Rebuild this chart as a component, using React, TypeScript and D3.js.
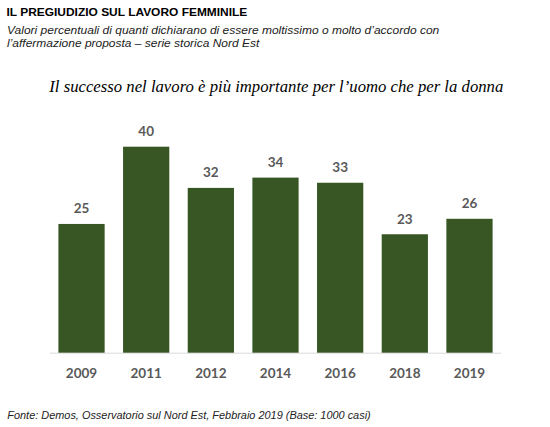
import React from "react";
import * as d3 from "d3";

const years = ["2009", "2011", "2012", "2014", "2016", "2018", "2019"];
const values = [25, 40, 32, 34, 33, 23, 26];

const header = "IL PREGIUDIZIO SUL LAVORO FEMMINILE";
const subtitle1 = "Valori percentuali di quanti dichiarano di essere moltissimo o molto d’accordo con";
const subtitle2 = "l’affermazione proposta – serie storica Nord Est";
const chartTitle = "Il successo nel lavoro è più importante per l’uomo che per la donna";
const source = "Fonte: Demos, Osservatorio sul Nord Est, Febbraio 2019 (Base: 1000 casi)";

const W = 550;
const H = 427;

export default function App() {
  const x = d3.scaleBand<string>().domain(years).range([50, 501]).paddingInner(0.285).paddingOuter(0.13);
  const y = d3.scaleLinear().domain([0, 40]).range([352.7, 146.7]);
  const arial = "Arial, 'Liberation Sans', sans-serif";
  const calibri = "Lato, 'Open Sans', sans-serif";
  return (
    <div style={{ position: "absolute", left: 0, top: 0 }}>
      <svg width={W} height={H} style={{ display: "block", background: "#fff" }}>
        <text x={6.5} y={15.7} fontFamily={arial} fontWeight="bold" fontSize={11} fill="#000" textLength={240.8} lengthAdjust="spacingAndGlyphs">{header}</text>
        <text x={7} y={34} fontFamily={arial} fontStyle="italic" fontSize={11} fill="#222" textLength={432.3} lengthAdjust="spacingAndGlyphs">{subtitle1}</text>
        <text x={7} y={46.5} fontFamily={arial} fontStyle="italic" fontSize={11} fill="#222" textLength={252.3} lengthAdjust="spacingAndGlyphs">{subtitle2}</text>
        <text x={49.3} y={91.7} fontFamily="'Times New Roman', 'Liberation Serif', serif" fontStyle="italic" fontSize={17.5} fill="#000" textLength={454} lengthAdjust="spacingAndGlyphs">{chartTitle}</text>
        <line x1={50} x2={501} y1={y(0) + 0.5} y2={y(0) + 0.5} stroke="#d9d9d9" strokeWidth={1} />
        {years.map((yr, i) => (
          <g key={yr}>
            <rect x={x(yr)} y={y(values[i])} width={x.bandwidth()} height={y(0) - y(values[i])} fill="#375623" />
            <text x={(x(yr) as number) + x.bandwidth() / 2} y={y(values[i]) - 10.7} textAnchor="middle" fontFamily={calibri} fontWeight="bold" fontSize={13.5} fill="#595959">{values[i]}</text>
            <text x={(x(yr) as number) + x.bandwidth() / 2} y={378.3} textAnchor="middle" fontFamily={calibri} fontWeight="bold" fontSize={13.5} fill="#595959">{yr}</text>
          </g>
        ))}
        <text x={7.3} y={419.3} fontFamily={arial} fontStyle="italic" fontSize={11} fill="#222" textLength={363.4} lengthAdjust="spacingAndGlyphs">{source}</text>
      </svg>
    </div>
  );
}
